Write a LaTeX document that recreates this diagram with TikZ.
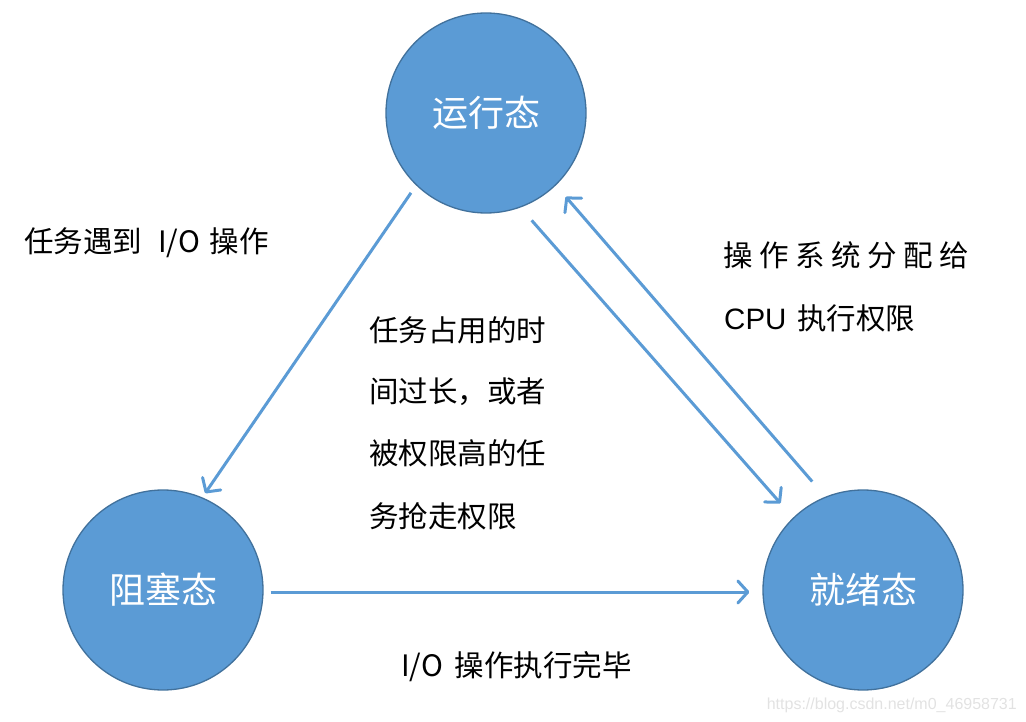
\documentclass[tikz,border=0pt]{standalone}
\usepackage{fontspec}
\newfontfamily\cjk{Noto Sans CJK SC}
\newfontfamily\arial{Liberation Sans}
\setmainfont{Noto Sans CJK SC}
\usetikzlibrary{arrows.meta}
\definecolor{fillblue}{HTML}{5B9BD5}
\definecolor{edgeblue}{HTML}{41719C}
\definecolor{arrowblue}{HTML}{5B9BD5}
\definecolor{wm}{HTML}{E2E2E2}
\tikzset{
  state/.style={circle, fill=fillblue, draw=edgeblue, line width=1.3pt, minimum size=200pt, inner sep=0pt, text=white, font=\cjk\fontsize{36}{40}\selectfont},
  conn/.style={draw=arrowblue, line width=3pt, -{Straight Barb[length=10pt, width=22pt, line width=3pt, round]}},
  lbl/.style={anchor=west, inner sep=0pt, text=black, font=\cjk\fontsize{29.5}{32}\selectfont},
}
\begin{document}
\begin{tikzpicture}[x=1pt, y=-1pt]
\useasboundingbox (0,0) rectangle (1026,722);
\node[state] (run) at (486,113) {运行态};
\node[state] (block) at (163,590) {\raisebox{-4pt}{阻塞态}};
\node[state] (ready) at (863,590) {就绪态};

\draw[conn, shorten <=9pt, shorten >=5pt] (run.-134) -- (block.67);
\draw[conn, shorten <=17pt, shorten >=19pt] (run.-70) -- (ready.134);
\draw[conn, shorten <=20pt, shorten >=15pt] (ready.112) -- (run.-46);
\draw[conn, shorten <=7pt, shorten >=13pt] ([yshift=-2pt]block.east) -- ([yshift=-2pt]ready.west);

\node[lbl] (l1) at (24,243) {任务遇到\hskip16pt I/O\hskip10pt 操作};
\node[lbl] (l2a) at (369,330) {任务占用的时};
\node[lbl] (l2b) at (369,392) {间过长，或者};
\node[lbl] (l2c) at (369,453) {被权限高的任};
\node[lbl] (l2d) at (369,516) {务抢走权限};
\node[lbl] (l3a) at (723,255) {操\hskip6.5pt 作\hskip6.5pt 系\hskip6.5pt 统\hskip6.5pt 分\hskip6.5pt 配\hskip6.5pt 给};
\node[lbl] (l3b) at (724,318) {{\arial CPU}\hskip11pt 执行权限};
\node[lbl] (l4) at (401,667) {I/O\hskip12pt 操作执行完毕};
\node[anchor=east, inner sep=0pt, text=wm, font=\arial\fontsize{16}{18}\selectfont] (wmk) at (1017,705) {https://blog.csdn.net/m0\_46958731};
\end{tikzpicture}
\end{document}
